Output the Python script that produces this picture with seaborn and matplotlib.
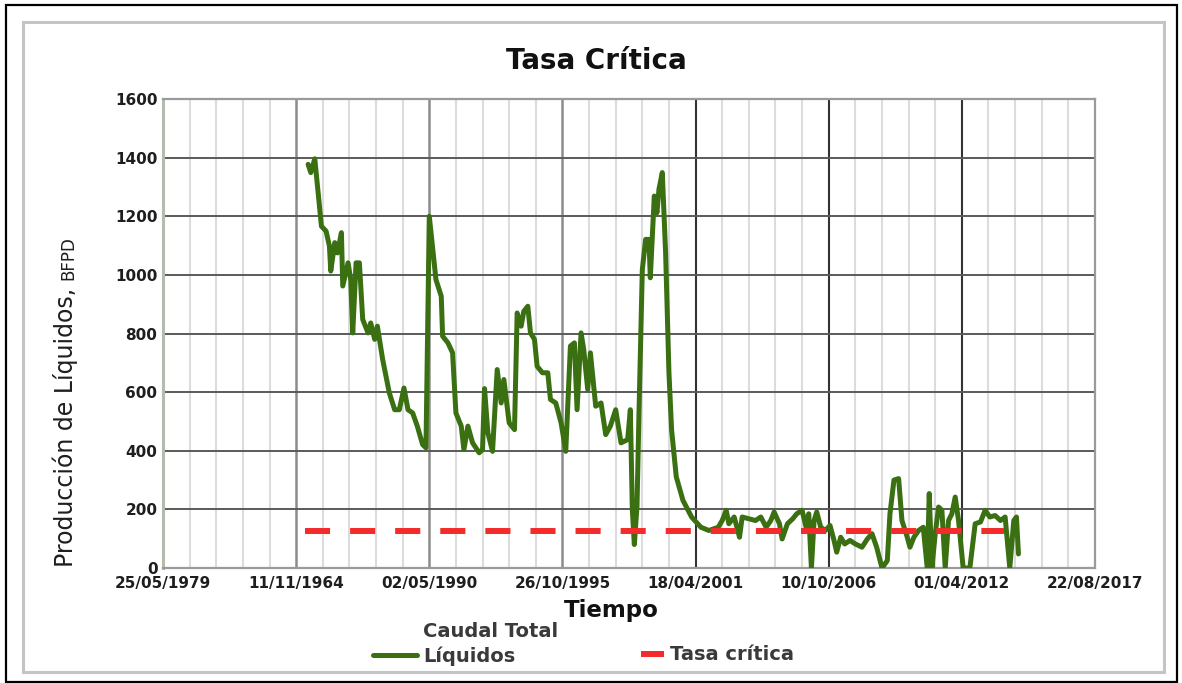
import numpy as np
import pandas as pd
import seaborn as sns
import matplotlib.pyplot as plt
from matplotlib.patches import Rectangle
from matplotlib.lines import Line2D
from matplotlib.offsetbox import TextArea

# Etiquetas del eje X tal como aparecen en la figura original
etiquetas_x = ["25/05/1979", "11/11/1964", "02/05/1990", "26/10/1995",
               "18/04/2001", "10/10/2006", "01/04/2012", "22/08/2017"]
ticks_y = [0, 200, 400, 600, 800, 1000, 1200, 1400, 1600]

# Serie de caudal total de liquidos (tiempo en unidades de division mayor)
tiempo = [1.09, 1.11, 1.14, 1.16, 1.19, 1.225, 1.25, 1.26, 1.29, 1.31,
          1.34, 1.35, 1.39, 1.41, 1.425, 1.45, 1.475, 1.5, 1.54, 1.56,
          1.59, 1.61, 1.65, 1.70, 1.74, 1.775, 1.81, 1.84, 1.875, 1.91,
          1.95, 1.975, 2.0, 2.05, 2.09, 2.1, 2.14, 2.175, 2.2, 2.24,
          2.26, 2.29, 2.325, 2.375, 2.4, 2.415, 2.44, 2.475, 2.51, 2.54,
          2.56, 2.6, 2.64, 2.66, 2.69, 2.71, 2.74, 2.76, 2.79, 2.81,
          2.85, 2.89, 2.91, 2.95, 2.99, 3.025, 3.06, 3.09, 3.11, 3.14,
          3.16, 3.19, 3.21, 3.25, 3.29, 3.325, 3.36, 3.4, 3.44, 3.49,
          3.51, 3.525, 3.54, 3.56, 3.575, 3.6, 3.625, 3.65, 3.66, 3.69,
          3.71, 3.725, 3.75, 3.775, 3.8, 3.82, 3.855, 3.905, 3.97, 4.04,
          4.1, 4.17, 4.2, 4.23, 4.25, 4.29, 4.33, 4.35, 4.4, 4.45,
          4.49, 4.53, 4.565, 4.59, 4.63, 4.65, 4.69, 4.73, 4.76, 4.8,
          4.83, 4.85, 4.87, 4.89, 4.91, 4.94, 4.975, 5.01, 5.04, 5.06,
          5.09, 5.12, 5.16, 5.2, 5.25, 5.29, 5.325, 5.36, 5.4, 5.44,
          5.46, 5.49, 5.525, 5.55, 5.59, 5.61, 5.64, 5.675, 5.71, 5.74,
          5.755, 5.775, 5.8, 5.825, 5.85, 5.875, 5.9, 5.925, 5.95, 5.975,
          6.01, 6.06, 6.1, 6.14, 6.175, 6.21, 6.25, 6.29, 6.325, 6.36,
          6.39, 6.41, 6.425]
caudal = [1377, 1349, 1396, 1303, 1166, 1149, 1098, 1013, 1110, 1075,
          1144, 962, 1041, 984, 802, 1041, 1041, 848, 802, 836,
          780, 825, 711, 597, 540, 540, 614, 540, 529, 484,
          421, 410, 1200, 984, 927, 791, 768, 734, 529, 484,
          404, 484, 427, 393, 404, 612, 461, 398, 677, 563,
          643, 495, 472, 870, 825, 876, 893, 802, 780, 688,
          666, 666, 575, 563, 495, 398, 757, 768, 540, 802,
          745, 609, 734, 552, 563, 455, 484, 540, 427, 438,
          540, 199, 80, 210, 529, 1018, 1121, 1121, 990, 1269,
          1212, 1292, 1349, 1075, 666, 471, 311, 231, 174, 139,
          128, 139, 162, 197, 151, 174, 105, 174, 168, 162,
          174, 139, 162, 191, 151, 99, 151, 168, 185, 197,
          139, 185, 0, 162, 191, 139, 128, 145, 94, 54,
          105, 82, 94, 82, 71, 99, 117, 71, 0, 25,
          185, 300, 305, 162, 105, 71, 105, 128, 139, 0,
          254, 0, 117, 208, 197, 0, 162, 185, 242, 162,
          0, 0, 151, 157, 197, 174, 179, 162, 174, 0,
          162, 174, 48]

# Tasa critica (linea horizontal discontinua)
tiempo_critica = [1.07, 6.32]
tasa_critica = [125, 125]

verde = "#3a7012"
rojo = "#f32b2b"
estilo_rojo = (0, (4.2, 3.35))

sns.set_theme(style="white")
plt.rcParams["font.family"] = ["DejaVu Sans"]

W, H = 1182, 683
fig = plt.figure(figsize=(W / 100, H / 100), dpi=100)
ax = fig.add_axes([163 / W, 1 - 568 / H, (1095 - 163) / W, (568 - 99) / H])

df = pd.DataFrame({"Tiempo": tiempo, "Caudal": caudal})
df_crit = pd.DataFrame({"Tiempo": tiempo_critica, "Tasa": tasa_critica})

sns.lineplot(data=df, x="Tiempo", y="Caudal", ax=ax, color=verde, lw=3.6,
             estimator=None, sort=False, zorder=3)
sns.lineplot(data=df_crit, x="Tiempo", y="Tasa", ax=ax, color=rojo, lw=4.3,
             estimator=None, sort=False, zorder=4, linestyle=estilo_rojo)
ax.lines[-1].set_dash_capstyle("butt")

# Ejes y rejilla
ax.set_xlim(0, len(etiquetas_x) - 1)
ax.set_ylim(0, 1600)
ax.set_xticks(range(len(etiquetas_x)))
ax.set_xticklabels(etiquetas_x)
ax.set_yticks(ticks_y)
ax.set_xticks(np.arange(0, 7.001, 0.2), minor=True)
ax.set_xlabel("")
ax.set_ylabel("")

ax.grid(which="minor", axis="x", color="#dcdcdc", lw=1.5, zorder=0)
ax.grid(which="major", axis="x", color="#8c8c8c", lw=1.8, zorder=1)
ax.grid(which="major", axis="y", color="#5a5a5a", lw=1.4, zorder=1)
ax.set_axisbelow(True)
for i, gl in enumerate(ax.xaxis.get_gridlines()):
    if i in (4, 5, 6):
        gl.set_color("#333333")
        gl.set_linewidth(1.5)

ax.tick_params(axis="both", which="both", length=0, labelsize=11,
               labelcolor="#1e1e1e")
ax.tick_params(axis="y", pad=4)
ax.tick_params(axis="x", pad=5.5)
for lab in ax.get_xticklabels() + ax.get_yticklabels():
    lab.set_fontweight("bold")

for lado in ["top", "right", "bottom"]:
    ax.spines[lado].set_color("#9a9a9a")
    ax.spines[lado].set_linewidth(1.6)
ax.spines["left"].set_color("#b4bcae")
ax.spines["left"].set_linewidth(2.2)

# Titulo y etiquetas
fig.text(596 / W, 1 - 61 / H, "Tasa Crítica", ha="center", va="center",
         fontsize=20, fontweight="bold", color="#111111")
fig.text(611 / W, 1 - 610 / H, "Tiempo", ha="center", va="center",
         fontsize=16.5, fontweight="bold", color="#111111")
t_y = fig.text(73 / W, 1 - 567 / H, "Producción de Líquidos,", rotation=90,
               rotation_mode="anchor", ha="left", va="baseline",
               fontsize=17, color="#1e1e1e")
fig.canvas.draw()
bb = t_y.get_window_extent()
fig.text(73 / W, (bb.y1 + 8) / H, "BFPD", rotation=90,
         rotation_mode="anchor", ha="left", va="baseline",
         fontsize=12, color="#1e1e1e")

# Leyendas
prop_leg = {"weight": "bold", "size": 14}
h_caudal = Line2D([], [], color=verde, lw=3.6)
leg1 = fig.legend(handles=[h_caudal], labels=["Caudal Total\nLíquidos"],
                  loc="upper left", bbox_to_anchor=(373 / W, 1 - 622 / H),
                  frameon=False, borderpad=0, borderaxespad=0,
                  handlelength=44 * 0.72 / 14, handletextpad=0.3,
                  prop=prop_leg, labelcolor="#3a3a3a")
leg1.get_texts()[0].set_linespacing(1.35)
for ta in leg1.findobj(match=TextArea):
    ta._multilinebaseline = False

h_tasa = Line2D([], [], color=rojo, lw=4.3, linestyle=estilo_rojo)
fig.legend(handles=[h_tasa], labels=["Tasa crítica"],
           loc="center left", bbox_to_anchor=(641 / W, 1 - 655 / H),
           frameon=False, borderpad=0, borderaxespad=0,
           handlelength=23 * 0.72 / 14, handletextpad=0.3,
           prop=prop_leg, labelcolor="#3a3a3a")

# Marcos exteriores
fig.add_artist(Rectangle((23 / W, 1 - 672 / H), (1164 - 23) / W, (672 - 22) / H,
                         transform=fig.transFigure, fill=False,
                         ec="#c4c4c4", lw=2.2))
fig.add_artist(Rectangle((6 / W, 1 - 682 / H), (1177 - 6) / W, (682 - 5) / H,
                         transform=fig.transFigure, fill=False,
                         ec="black", lw=1.6))

fig.savefig("out.png", dpi=100)
